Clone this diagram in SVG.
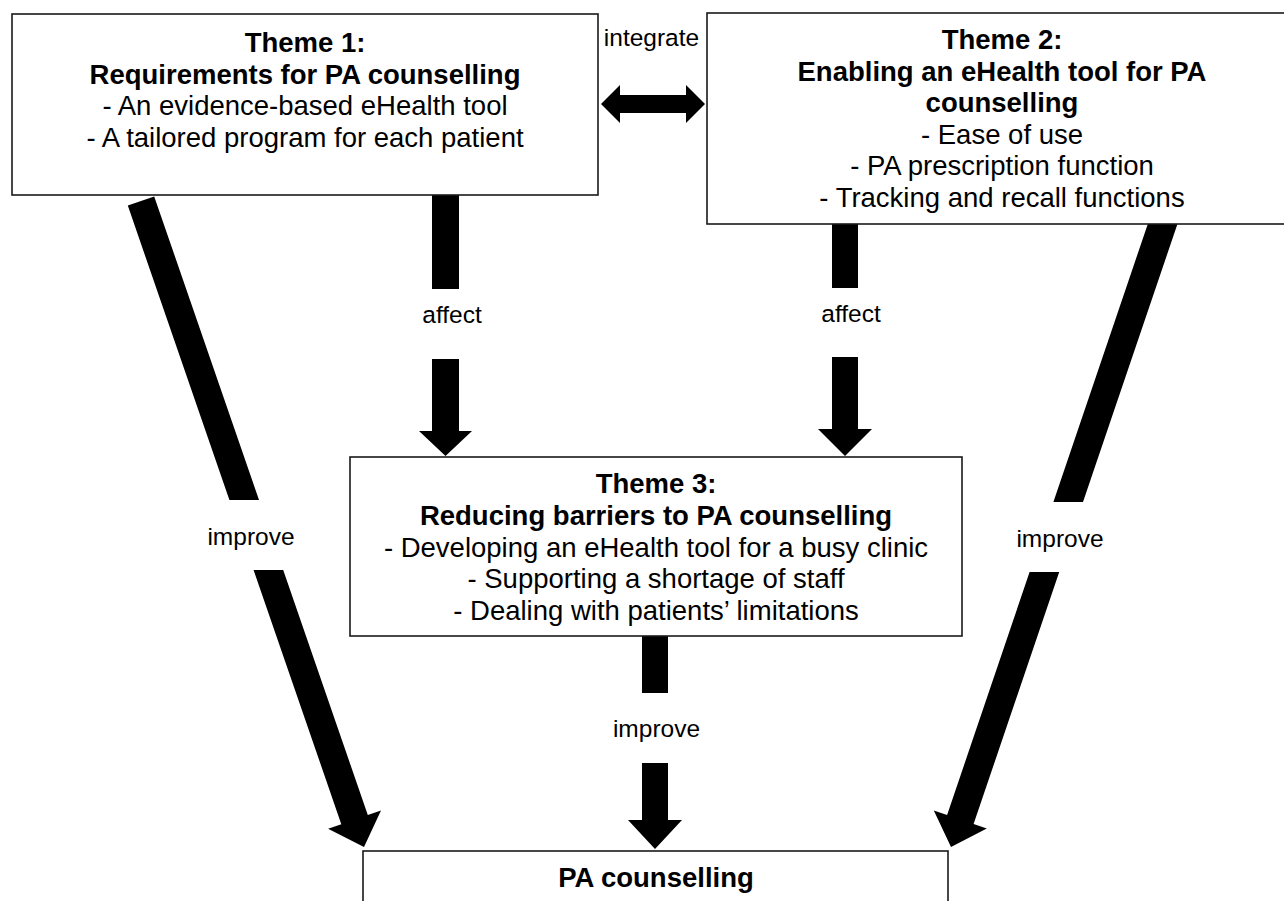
<svg xmlns="http://www.w3.org/2000/svg" width="1284" height="901" viewBox="0 0 1284 901">
<style>
.box{fill:#fff;stroke:#1a1a1a;stroke-width:1.6}
.t{font-family:"Liberation Sans",Arial,sans-serif;font-size:27.5px;text-anchor:middle;fill:#000}
.b{font-weight:bold}
.lbl{font-family:"Liberation Sans",Arial,sans-serif;font-size:24.5px;text-anchor:middle;fill:#000}
.arr{fill:#000;stroke:none}
.bg{fill:#fff;stroke:none}
</style>
<rect width="1284" height="901" fill="#fff"/>
<g id="connectors">
  <!-- integrate double arrow -->
  <polygon class="arr" points="601,104 620,85 620,95 686,95 686,85 705,104 686,123 686,113 620,113 620,123"/>
  <!-- Theme1 -> Theme3 affect -->
  <polygon class="arr" points="432,190 459,190 459,431 472,431 445.5,456 419,431 432,431"/>
  <!-- Theme2 -> Theme3 affect -->
  <polygon class="arr" points="832,218 858,218 858,429 872,429 845,456 818,429 832,429"/>
  <!-- Theme3 -> PA improve -->
  <polygon class="arr" points="642,630 668,630 668,820 682,820 655,849 628,820 642,820"/>
  <!-- Theme1 -> PA improve -->
  <polygon class="arr" points="154.2,196.4 367.8,815 381,810.5 364,847 328.1,828.7 341.3,824.2 127.8,205.6"/>
  <!-- Theme2 -> PA improve -->
  <polygon class="arr" points="1180,216.5 973.6,824 986.8,828.5 951,847 933.8,810.5 947.1,815 1153.4,207.5"/>
</g>
<g id="label-integrate">
  <text class="lbl" x="651.5" y="46">integrate</text>
</g>
<g id="label-affect-1">
  <rect class="bg" x="405" y="289" width="94" height="70"/>
  <text class="lbl" x="452" y="323">affect</text>
</g>
<g id="label-affect-2">
  <rect class="bg" x="805" y="288" width="92" height="69"/>
  <text class="lbl" x="851" y="322">affect</text>
</g>
<g id="label-improve-1">
  <rect class="bg" x="195" y="500" width="112" height="70"/>
  <text class="lbl" x="251" y="545">improve</text>
</g>
<g id="label-improve-2">
  <rect class="bg" x="1003" y="502" width="114" height="70"/>
  <text class="lbl" x="1060" y="547">improve</text>
</g>
<g id="label-improve-3">
  <rect class="bg" x="600" y="693" width="112" height="70"/>
  <text class="lbl" x="656.5" y="737">improve</text>
</g>
<g id="theme1">
  <rect class="box" x="12" y="14" width="586" height="181"/>
  <text class="t b" x="305" y="52">Theme 1:</text>
  <text class="t b" x="305" y="83.5">Requirements for PA counselling</text>
  <text class="t" x="305" y="115">- An evidence-based eHealth tool</text>
  <text class="t" x="305" y="146.5">- A tailored program for each patient</text>
</g>
<g id="theme2">
  <rect class="box" x="707" y="13" width="590" height="211"/>
  <text class="t b" x="1002" y="49">Theme 2:</text>
  <text class="t b" x="1002" y="80.5">Enabling an eHealth tool for PA</text>
  <text class="t b" x="1002" y="112">counselling</text>
  <text class="t" x="1002" y="143.5">- Ease of use</text>
  <text class="t" x="1002" y="175">- PA prescription function</text>
  <text class="t" x="1002" y="206.5">- Tracking and recall functions</text>
</g>
<g id="theme3">
  <rect class="box" x="350" y="457" width="612" height="179"/>
  <text class="t b" x="656" y="493">Theme 3:</text>
  <text class="t b" x="656" y="524.5">Reducing barriers to PA counselling</text>
  <text class="t" x="656" y="556.5">- Developing an eHealth tool for a busy clinic</text>
  <text class="t" x="656" y="588">- Supporting a shortage of staff</text>
  <text class="t" x="656" y="620">- Dealing with patients’ limitations</text>
</g>
<g id="pa-counselling">
  <rect class="box" x="363" y="851" width="585" height="80"/>
  <text class="t b" x="656" y="887">PA counselling</text>
</g>
</svg>
